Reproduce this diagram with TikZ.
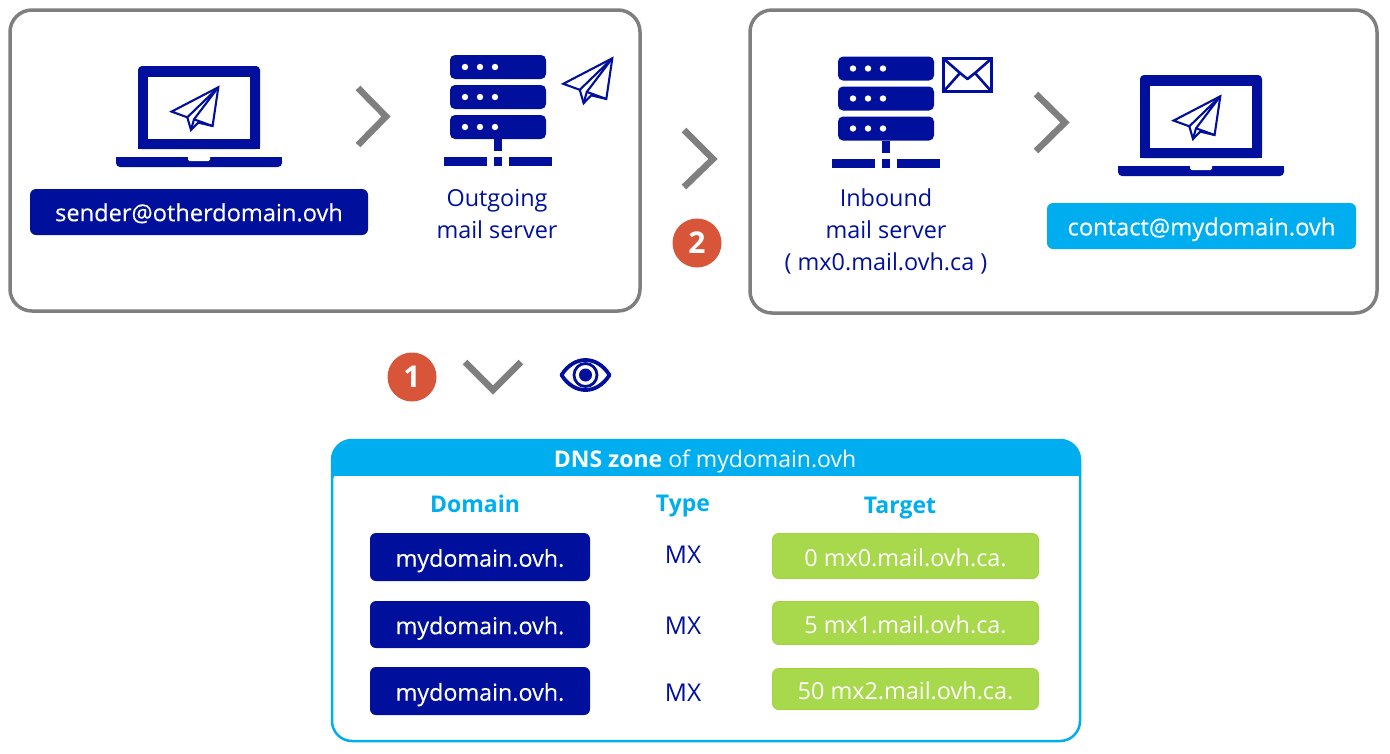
\documentclass[tikz,border=0pt]{standalone}
\usepackage{fontspec}
\setmainfont{Open Sans}
\newfontfamily\heavier[FakeBold=0.25]{Open Sans}
\definecolor{navy}{HTML}{00109C}
\definecolor{cyanb}{HTML}{00AEEF}
\definecolor{greenb}{HTML}{A8D84C}
\definecolor{greenl}{HTML}{A0D438}
\definecolor{orangeb}{HTML}{D9553A}
\definecolor{grayb}{HTML}{7F7F7F}
\tikzset{
  panel/.style={draw=grayb,line width=3.5pt,rounded corners=22pt,fill=white},
  chev/.style={draw=grayb,line width=6.5pt,miter limit=10},
  bubble/.style={circle,fill=orangeb,minimum size=#1,inner sep=0pt,text=white,font=\fontsize{30}{30}\selectfont\bfseries},
  pill/.style={rounded corners=6pt,inner sep=0pt,text=white,text height=24pt,text depth=4.6pt},
  navybox/.style={pill,fill=navy,font=\heavier\fontsize{23.3}{23.3}\selectfont},
  sendbox/.style={navybox,font=\heavier\fontsize{23.6}{23.6}\selectfont,text height=23pt},
  cyanbox/.style={pill,fill=cyanb,font=\heavier\fontsize{23.7}{23.7}\selectfont,text height=23.5pt},
  greenbox/.style={pill,draw=greenl,line width=0.8pt,fill=greenb,font=\fontsize{23.4}{23.4}\selectfont,text height=26pt},
  lbl/.style={text=navy,align=center,font=\fontsize{23.4}{32}\selectfont},
  mxlbl/.style={text=navy,font=\fontsize{24.5}{24.5}\selectfont},
  colhead/.style={anchor=base,text=cyanb,font=\fontsize{23}{23}\selectfont\bfseries},
  planeline/.style={draw=navy,line width=2.1pt,line join=miter},
  plane/.pic={
    \draw[planeline] (0,0) -- (-46.7,24.3) -- (-31,30) -- (-27.3,42.7) -- (-20,35.3) -- (-5.7,38.7) -- cycle;
    \draw[planeline] (-31,30) -- (0,0) -- (-24.3,32) -- (-27.3,42.7);
    \draw[planeline] (-24.3,32) -- (-5.7,38.7);
  },
  laptop/.pic={
    \fill[navy,rounded corners=4pt] (0,83) -- (0,0) -- (122,0) -- (122,83) -- cycle;
    \fill[navy] (0,70) rectangle (122,83);
    \fill[white] (10,11) rectangle (112,73);
    \fill[navy,rounded corners=4pt] (-22,101) -- (-22,91) -- (144,91) -- (144,101) -- cycle;
    \fill[navy] (-22,91) rectangle (144,96);
    \fill[white,rounded corners=1.5pt] (50,89) -- (50,95) -- (72,95) -- (72,89) -- cycle;
  },
  server/.pic={
    \foreach \y in {0,30,60}{
      \fill[navy,rounded corners=5pt] (0,\y) rectangle (96,\y+24);
      \foreach \x in {15,30,45}{\fill[white] (\x,\y+12) circle (3.2);}
    }
    \fill[navy] (44,84) rectangle (52,96);
    \fill[navy] (-6,102) rectangle (37,111);
    \fill[navy] (44,102) rectangle (52,111);
    \fill[navy] (59,102) rectangle (102,111);
  }
}
\begin{document}
\begin{tikzpicture}[x=1pt,y=-1pt]
\useasboundingbox (0,0) rectangle (1390,753);
\fill[white] (0,0) rectangle (1390,753);
% panels
\draw[panel] (10,10) rectangle (640,311);
\draw[panel] (750,10) rectangle (1377,313);
% left panel
\pic at (138,66) {laptop};
\pic[scale=1] at (218.3,87.3) {plane};
\pic at (450,55) {server};
\pic[scale=1.05] at (612.3,58.3) {plane};
\node[sendbox,minimum width=338pt,minimum height=46pt] (sender) at (199,212) {sender@otherdomain.ovh};
\node[lbl] (outgoing) at (497,214) {Outgoing\\mail server};
% right panel
\pic at (838,56.5) {server};
\draw[navy,line width=3.5pt] (943.5,58.5) rectangle (991.5,91.5);
\draw[navy,line width=2.6pt,line join=round] (944,59) -- (960,73) -- (967.5,79) -- (975,73) -- (991,59);
\draw[navy,line width=2.6pt] (944,91) -- (960,73);
\draw[navy,line width=2.6pt] (991,91) -- (975,73);
\pic at (1140,75) {laptop};
\pic at (1220.3,96.3) {plane};
\node[cyanbox,minimum width=309pt,minimum height=46pt] (contact) at (1201.5,226) {contact@mydomain.ovh};
\node[lbl] (inbound) at (886,231.5) {Inbound\\mail server\\( mx0.mail.ovh.ca )};
% chevrons
\draw[chev] (358,88) -- (386,116.5) -- (358,145);
\draw[chev] (684,130) -- (713,159) -- (684,187);
\draw[chev] (1036,94) -- (1065,122.5) -- (1036,151);
\draw[chev] (465,362) -- (493,390) -- (521,362);
% bubbles
\node[bubble=49pt] (one) at (412,377) {1};
\node[bubble=49pt] (two) at (697,243) {2};
% eye
\draw[navy,line width=3.8pt,line join=round] (561.5,375) .. controls (574,355) and (597,355) .. (609.5,375) .. controls (597,395) and (574,395) .. cycle;
\draw[navy,line width=2.8pt] (585.5,375) circle (11.5);
\fill[navy] (585.5,375) circle (6.5);
% DNS table
\fill[cyanb,rounded corners=20pt] (332,440) -- (1080,440) -- (1080,490) -- (332,490) -- cycle;
\fill[white] (333.5,476) rectangle (1078.5,500);
\draw[cyanb,line width=2.5pt,rounded corners=20pt] (332,440) rectangle (1080,741);
\node[anchor=base,text=white,font=\fontsize{23}{23}\selectfont] (zone) at (705,467.7) {\textbf{DNS zone} of mydomain.ovh};
\node[colhead] (hdomain) at (475,512.7) {Domain};
\node[colhead] (htype) at (683,511.7) {Type};
\node[colhead] (htarget) at (900,513.7) {Target};
\node[navybox,minimum width=220pt,minimum height=48pt] (d1) at (480,557) {mydomain.ovh.};
\node[navybox,minimum width=220pt,minimum height=47pt] (d2) at (480,624.5) {mydomain.ovh.};
\node[navybox,minimum width=220pt,minimum height=48pt] (d3) at (480,691) {mydomain.ovh.};
\node[mxlbl] (t1) at (683,555) {MX};
\node[mxlbl] (t2) at (683,626) {MX};
\node[mxlbl] (t3) at (683,693) {MX};
\node[greenbox,minimum width=266pt,minimum height=45pt] (g1) at (905.5,556) {0 mx0.mail.ovh.ca.};
\node[greenbox,minimum width=266pt,minimum height=43pt] (g2) at (905.5,623) {5 mx1.mail.ovh.ca.};
\node[greenbox,minimum width=266pt,minimum height=41pt] (g3) at (905.5,689) {50 mx2.mail.ovh.ca.};
\end{tikzpicture}
\end{document}
